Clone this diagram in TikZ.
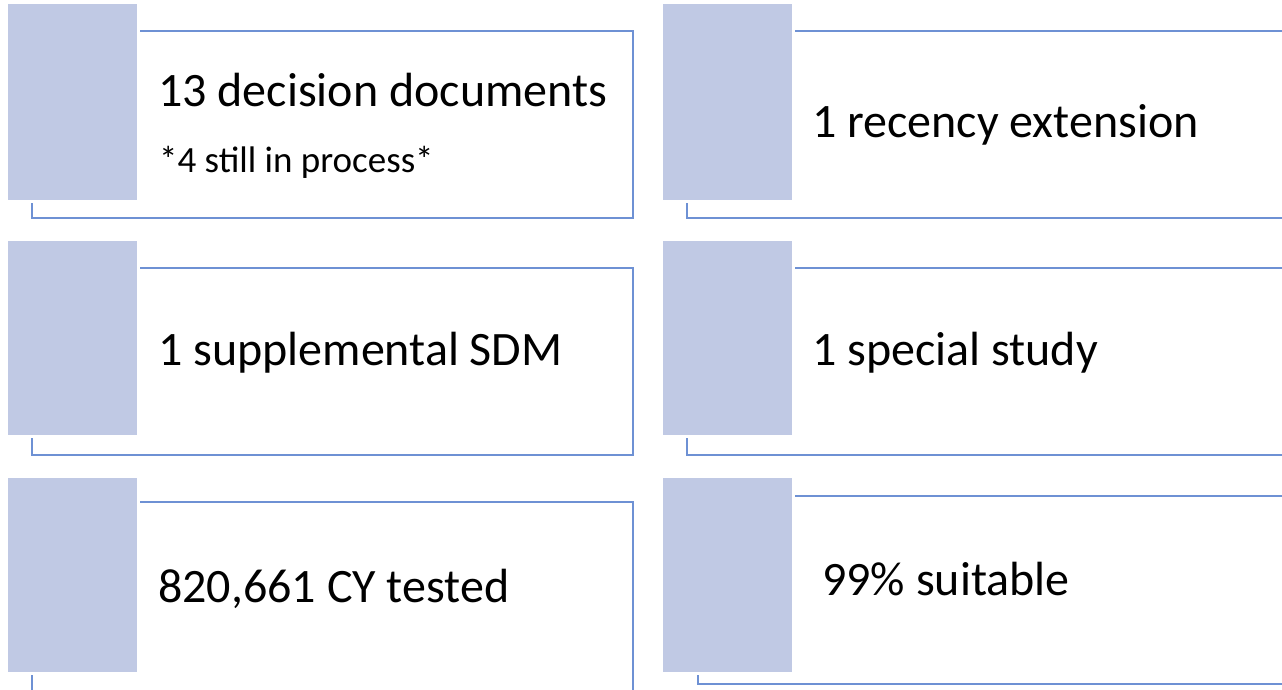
\documentclass[tikz,border=0pt]{standalone}
\usepackage{fontspec}
\setmainfont{Carlito}
\definecolor{fillc}{RGB}{192,201,228}
\definecolor{linec}{RGB}{110,145,212}
\begin{document}
\begin{tikzpicture}[x=1pt,y=-1pt,
  outl/.style={draw=linec,line width=1.5pt},
  bar/.style={fill=fillc,draw=none},
  gap/.style={fill=white,draw=none},
  big/.style={anchor=base west,inner sep=0pt,font=\fontsize{48}{58}\selectfont},
  small/.style={anchor=base west,inner sep=0pt,font=\fontsize{37}{44}\selectfont}]
\useasboundingbox (0,0) rectangle (1282,690);
\clip (0,0) rectangle (1282,690);
% row 1
\draw[outl] (32,31) rectangle (633,218);
\fill[gap] (5.5,1.5) rectangle (139.5,202.5);
\fill[bar] (8,4) rectangle (137,200);
\draw[outl] (687,31) rectangle (1300,218);
\fill[gap] (660.5,1.5) rectangle (794.5,202.5);
\fill[bar] (663,4) rectangle (792,200);
% row 2
\draw[outl] (32,268) rectangle (633,455);
\fill[gap] (5.5,238.5) rectangle (139.5,437.5);
\fill[bar] (8,241) rectangle (137,435);
\draw[outl] (687,268) rectangle (1300,455);
\fill[gap] (660.5,238.5) rectangle (794.5,437.5);
\fill[bar] (663,241) rectangle (792,435);
% row 3
\draw[outl] (32,502) rectangle (633,700);
\fill[gap] (5.5,475.5) rectangle (139.5,674.5);
\fill[bar] (8,478) rectangle (137,672);
\draw[outl] (698,496) rectangle (1300,684);
\fill[gap] (660.5,475.5) rectangle (794.5,674.5);
\fill[bar] (663,478) rectangle (792,672);
% texts
\node[big] (t1) at (158,107) {13 decision documents};
\node[small] (t1b) at (159,172) {*4 still in process*};
\node[big] (t2) at (812,138) {1 recency extension};
\node[big] (t3) at (158,365) {1 supplemental SDM};
\node[big] (t4) at (812,365) {1 special study};
\node[big] (t5) at (158,602) {820,661 CY tested};
\node[big] (t6) at (822,595) {99\% suitable};
\end{tikzpicture}
\end{document}
